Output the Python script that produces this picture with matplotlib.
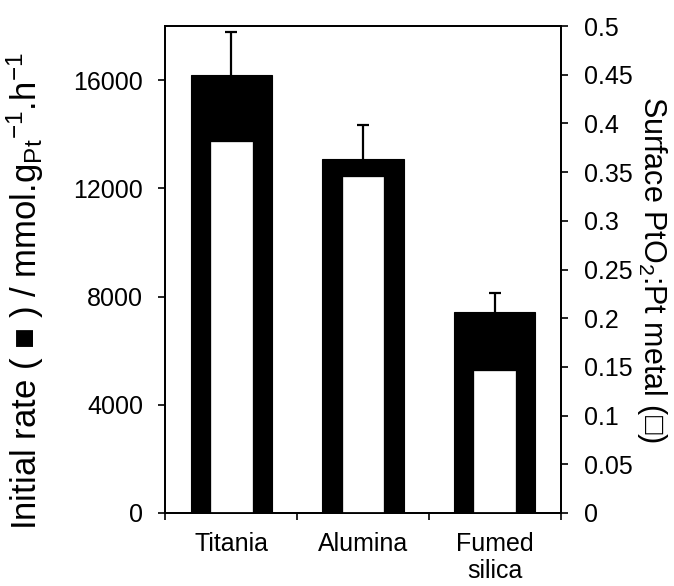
import matplotlib
matplotlib.use("Agg")
from matplotlib import pyplot as plt
import numpy as np

plt.rcParams["font.family"] = ["Liberation Sans", "DejaVu Sans"]
plt.rcParams["mathtext.fontset"] = "custom"
plt.rcParams["mathtext.rm"] = "Liberation Sans"
plt.rcParams["mathtext.it"] = "Liberation Sans"

categories = ["Titania", "Alumina", "Fumed\nsilica"]
initial_rate = [16200, 13100, 7430]
rate_error = [1580, 1240, 700]
pto2_ratio = [0.381, 0.345, 0.146]

fig = plt.figure(figsize=(6.74, 5.86), dpi=100)
ax = fig.add_axes([0.245, 0.1246, 0.587, 0.831])
ax2 = ax.twinx()

x = np.arange(len(categories))
rate = np.array(initial_rate)
err_top = rate + np.array(rate_error)
ax.bar(x, rate, width=0.615, color="black", edgecolor="black",
       linewidth=0.8, zorder=2)
# upper error bars only, cap on top
ax.vlines(x, rate, err_top, color="black", linewidth=1.6, zorder=3)
ax.plot(x, err_top, linestyle="none", marker="_", markersize=9,
        markeredgewidth=1.6, color="black", zorder=3)
ax2.bar(x, pto2_ratio, width=0.31, color="white", edgecolor="white",
        linewidth=0.5, zorder=2)

ax.set_xlim(-0.5, 2.5)
ax.set_ylim(0, 18000)
ax2.set_ylim(0, 0.5)

ax.set_yticks([0, 4000, 8000, 12000, 16000])
ax2.set_yticks(np.arange(0, 0.501, 0.05))
ax2.set_yticklabels(["0", "0.05", "0.1", "0.15", "0.2", "0.25", "0.3",
                     "0.35", "0.4", "0.45", "0.5"])

ax.set_xticks(x)
ax.set_xticklabels(categories, fontsize=18, linespacing=1.15)
ax.set_xticks([-0.5, 0.5, 1.5, 2.5], minor=True)
ax.tick_params(axis="x", which="major", length=0, pad=14)
ax.tick_params(axis="x", which="minor", length=5, width=1.2, direction="out")
ax.tick_params(axis="y", length=5, width=1.2, direction="out", labelsize=18,
               pad=11)
ax2.tick_params(axis="y", length=5, width=1.2, direction="out", labelsize=18,
                pad=12)

for a in (ax, ax2):
    for spine in a.spines.values():
        spine.set_linewidth(1.3)

ax.set_ylabel("Initial rate ( \u25a0 ) / mmol.g$_{\\mathrm{Pt}}$$^{\\mathrm{-1}}$.h$^{\\mathrm{-1}}$",
              fontsize=25)
ax.yaxis.set_label_coords(-0.3, 0.455)
ax2.set_ylabel("Surface PtO$_{2}$:Pt metal (\u25a1)", fontsize=22,
               rotation=270, labelpad=26)

fig.savefig("out.png", dpi=100)
